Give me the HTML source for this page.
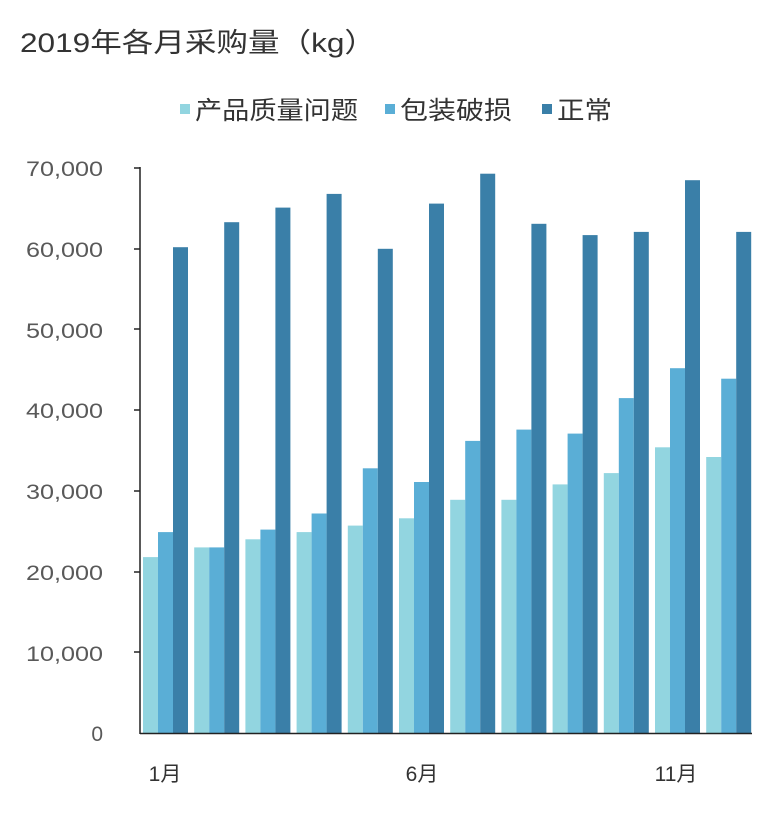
<!DOCTYPE html><html><head><meta charset="utf-8"><style>body{margin:0;background:#fff}svg text{font-family:"Liberation Sans","Noto Sans CJK SC",sans-serif}</style></head><body>
<svg width="776" height="812" xmlns="http://www.w3.org/2000/svg">
<text x="20" y="52" font-size="27" fill="#333" textLength="356" lengthAdjust="spacingAndGlyphs">2019年各月采购量（kg）</text>
<rect x="180" y="104" width="10" height="10" fill="#92d5e0"/><text x="195" y="119" font-size="25" fill="#333" textLength="163" lengthAdjust="spacingAndGlyphs">产品质量问题</text>
<rect x="385" y="104" width="10" height="10" fill="#5aaed6"/><text x="400" y="119" font-size="25" fill="#333" textLength="112" lengthAdjust="spacingAndGlyphs">包装破损</text>
<rect x="542" y="104" width="10" height="10" fill="#3a7fa8"/><text x="557" y="119" font-size="25" fill="#333" textLength="55" lengthAdjust="spacingAndGlyphs">正常</text>
<g font-size="21" fill="#595959" text-anchor="end">
<text x="103" y="741">0</text>
<text x="103" y="661" textLength="77" lengthAdjust="spacingAndGlyphs">10,000</text>
<text x="103" y="580" textLength="77" lengthAdjust="spacingAndGlyphs">20,000</text>
<text x="103" y="499" textLength="77" lengthAdjust="spacingAndGlyphs">30,000</text>
<text x="103" y="418" textLength="77" lengthAdjust="spacingAndGlyphs">40,000</text>
<text x="103" y="338" textLength="77" lengthAdjust="spacingAndGlyphs">50,000</text>
<text x="103" y="257" textLength="77" lengthAdjust="spacingAndGlyphs">60,000</text>
<text x="103" y="176" textLength="77" lengthAdjust="spacingAndGlyphs">70,000</text>
</g>
<g fill="#92d5e0">
<rect x="143" y="557.1" width="15" height="175.9"/>
<rect x="194.2" y="547.4" width="15" height="185.6"/>
<rect x="245.4" y="539.3" width="15" height="193.7"/>
<rect x="296.6" y="532.1" width="15" height="200.9"/>
<rect x="347.8" y="525.6" width="15" height="207.4"/>
<rect x="399" y="518.3" width="15" height="214.7"/>
<rect x="450.2" y="499.8" width="15" height="233.2"/>
<rect x="501.4" y="499.8" width="15" height="233.2"/>
<rect x="552.6" y="484.4" width="15" height="248.6"/>
<rect x="603.8" y="473.1" width="15" height="259.9"/>
<rect x="655" y="447.3" width="15" height="285.7"/>
<rect x="706.2" y="457" width="15" height="276"/>
</g>
<g fill="#5aaed6">
<rect x="158" y="532.1" width="15" height="200.9"/>
<rect x="209.2" y="547.4" width="15" height="185.6"/>
<rect x="260.4" y="529.6" width="15" height="203.4"/>
<rect x="311.6" y="513.5" width="15" height="219.5"/>
<rect x="362.8" y="468.3" width="15" height="264.7"/>
<rect x="414" y="482" width="15" height="251"/>
<rect x="465.2" y="440.9" width="15" height="292.1"/>
<rect x="516.4" y="429.6" width="15" height="303.4"/>
<rect x="567.6" y="433.6" width="15" height="299.4"/>
<rect x="618.8" y="398.1" width="15" height="334.9"/>
<rect x="670" y="368.2" width="15" height="364.8"/>
<rect x="721.2" y="378.7" width="15" height="354.3"/>
</g>
<g fill="#3a7fa8">
<rect x="173" y="247.2" width="15" height="485.8"/>
<rect x="224.2" y="222.2" width="15" height="510.8"/>
<rect x="275.4" y="207.6" width="15" height="525.4"/>
<rect x="326.6" y="193.9" width="15" height="539.1"/>
<rect x="377.8" y="248.8" width="15" height="484.2"/>
<rect x="429" y="203.6" width="15" height="529.4"/>
<rect x="480.2" y="173.7" width="15" height="559.3"/>
<rect x="531.4" y="223.8" width="15" height="509.2"/>
<rect x="582.6" y="235.1" width="15" height="497.9"/>
<rect x="633.8" y="231.9" width="15" height="501.1"/>
<rect x="685" y="180.2" width="15" height="552.8"/>
<rect x="736.2" y="231.9" width="15" height="501.1"/>
</g>
<line x1="140" y1="167" x2="140" y2="734" stroke="#222" stroke-width="1.5"/>
<line x1="140" y1="733.5" x2="752" y2="733.5" stroke="#222" stroke-width="1.5"/>
<g stroke="#222" stroke-width="1.5">
<line x1="134" y1="168" x2="140" y2="168"/><line x1="134" y1="249" x2="140" y2="249"/><line x1="134" y1="329" x2="140" y2="329"/><line x1="134" y1="410" x2="140" y2="410"/><line x1="134" y1="491" x2="140" y2="491"/><line x1="134" y1="572" x2="140" y2="572"/><line x1="134" y1="652" x2="140" y2="652"/>
</g>
<g font-size="21" fill="#333" text-anchor="middle">
<text x="165" y="781">1月</text><text x="422" y="781">6月</text><text x="676" y="781">11月</text>
</g>
</svg>
</body></html>
